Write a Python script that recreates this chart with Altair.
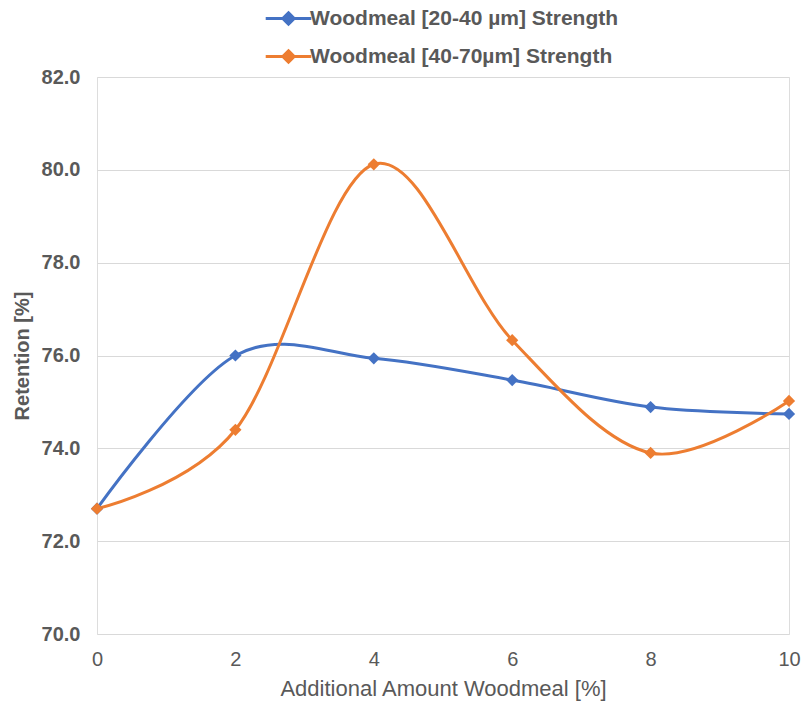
import altair as alt
import pandas as pd

x_vals = [0, 2, 4, 6, 8, 10]
series_names = ["Woodmeal [20-40 µm] Strength", "Woodmeal [40-70µm] Strength"]
fine_vals = [72.7, 76.0, 75.94, 75.47, 74.89, 74.74]
coarse_vals = [72.7, 74.4, 80.12, 76.33, 73.9, 75.02]
colors = ["#4472C4", "#ED7D31"]

rows = []
for name, vals in zip(series_names, [fine_vals, coarse_vals]):
    for xv, yv in zip(x_vals, vals):
        rows.append({"x": xv, "y": yv, "series": name})
df = pd.DataFrame(rows)

gray = "#595959"
legend = alt.Legend(
    title=None,
    orient="none",
    legendX=171,
    legendY=-79,
    padding=0,
    rowPadding=5,
    symbolType="M-1.2,0L1.2,0M0,-0.3L0.3,0L0,0.3L-0.3,0Z",
    symbolSize=1444,
    symbolStrokeWidth=3,
    labelOffset=1,
    labelFont="Liberation Sans",
    labelFontSize=21,
    labelFontWeight="bold",
    labelColor=gray,
    labelLimit=500,
)
color = alt.Color("series:N", scale=alt.Scale(domain=series_names, range=colors), legend=legend)

x = alt.X(
    "x:Q",
    scale=alt.Scale(domain=[0, 10], nice=False),
    axis=alt.Axis(
        values=x_vals,
        format="d",
        title="Additional Amount Woodmeal  [%]",
        titleFont="Liberation Sans",
        titleFontSize=22,
        titleFontWeight="normal",
        titleColor=gray,
        titlePadding=9,
        labelFont="Liberation Sans",
        labelFontSize=20,
        labelFontWeight="normal",
        labelColor=gray,
        labelPadding=15,
        labelFlush=False,
        ticks=False,
        domain=False,
        grid=False,
    ),
)
y = alt.Y(
    "y:Q",
    scale=alt.Scale(domain=[70, 82], nice=False, zero=False),
    axis=alt.Axis(
        values=[70, 72, 74, 76, 78, 80, 82],
        format=".1f",
        title="Retention [%]",
        titleFont="Liberation Sans",
        titleFontSize=20,
        titleFontWeight="bold",
        titleColor=gray,
        titlePadding=9,
        labelFont="Liberation Sans",
        labelFontSize=20,
        labelFontWeight="bold",
        labelColor=gray,
        labelPadding=17,
        ticks=False,
        domain=False,
        grid=True,
        gridColor="#D9D9D9",
        gridWidth=1.2,
    ),
)

lines = alt.Chart(df).mark_line(interpolate="cardinal", tension=0, strokeWidth=3).encode(
    x=x, y=y, color=color, detail="series:N"
)
points = alt.Chart(df).mark_point(shape="diamond", filled=True, size=150, opacity=1).encode(
    x="x:Q", y="y:Q", color=color
)

chart = (
    alt.layer(lines, points)
    .properties(width=692, height=557, padding={"left": 97, "top": 77, "right": 14, "bottom": 68},
                autosize=alt.AutoSizeParams(type="none"))
    .configure_view(strokeWidth=0)
    .configure(background="white")
)
chart.save("out.html", embed_options={"renderer": "svg", "actions": False})
